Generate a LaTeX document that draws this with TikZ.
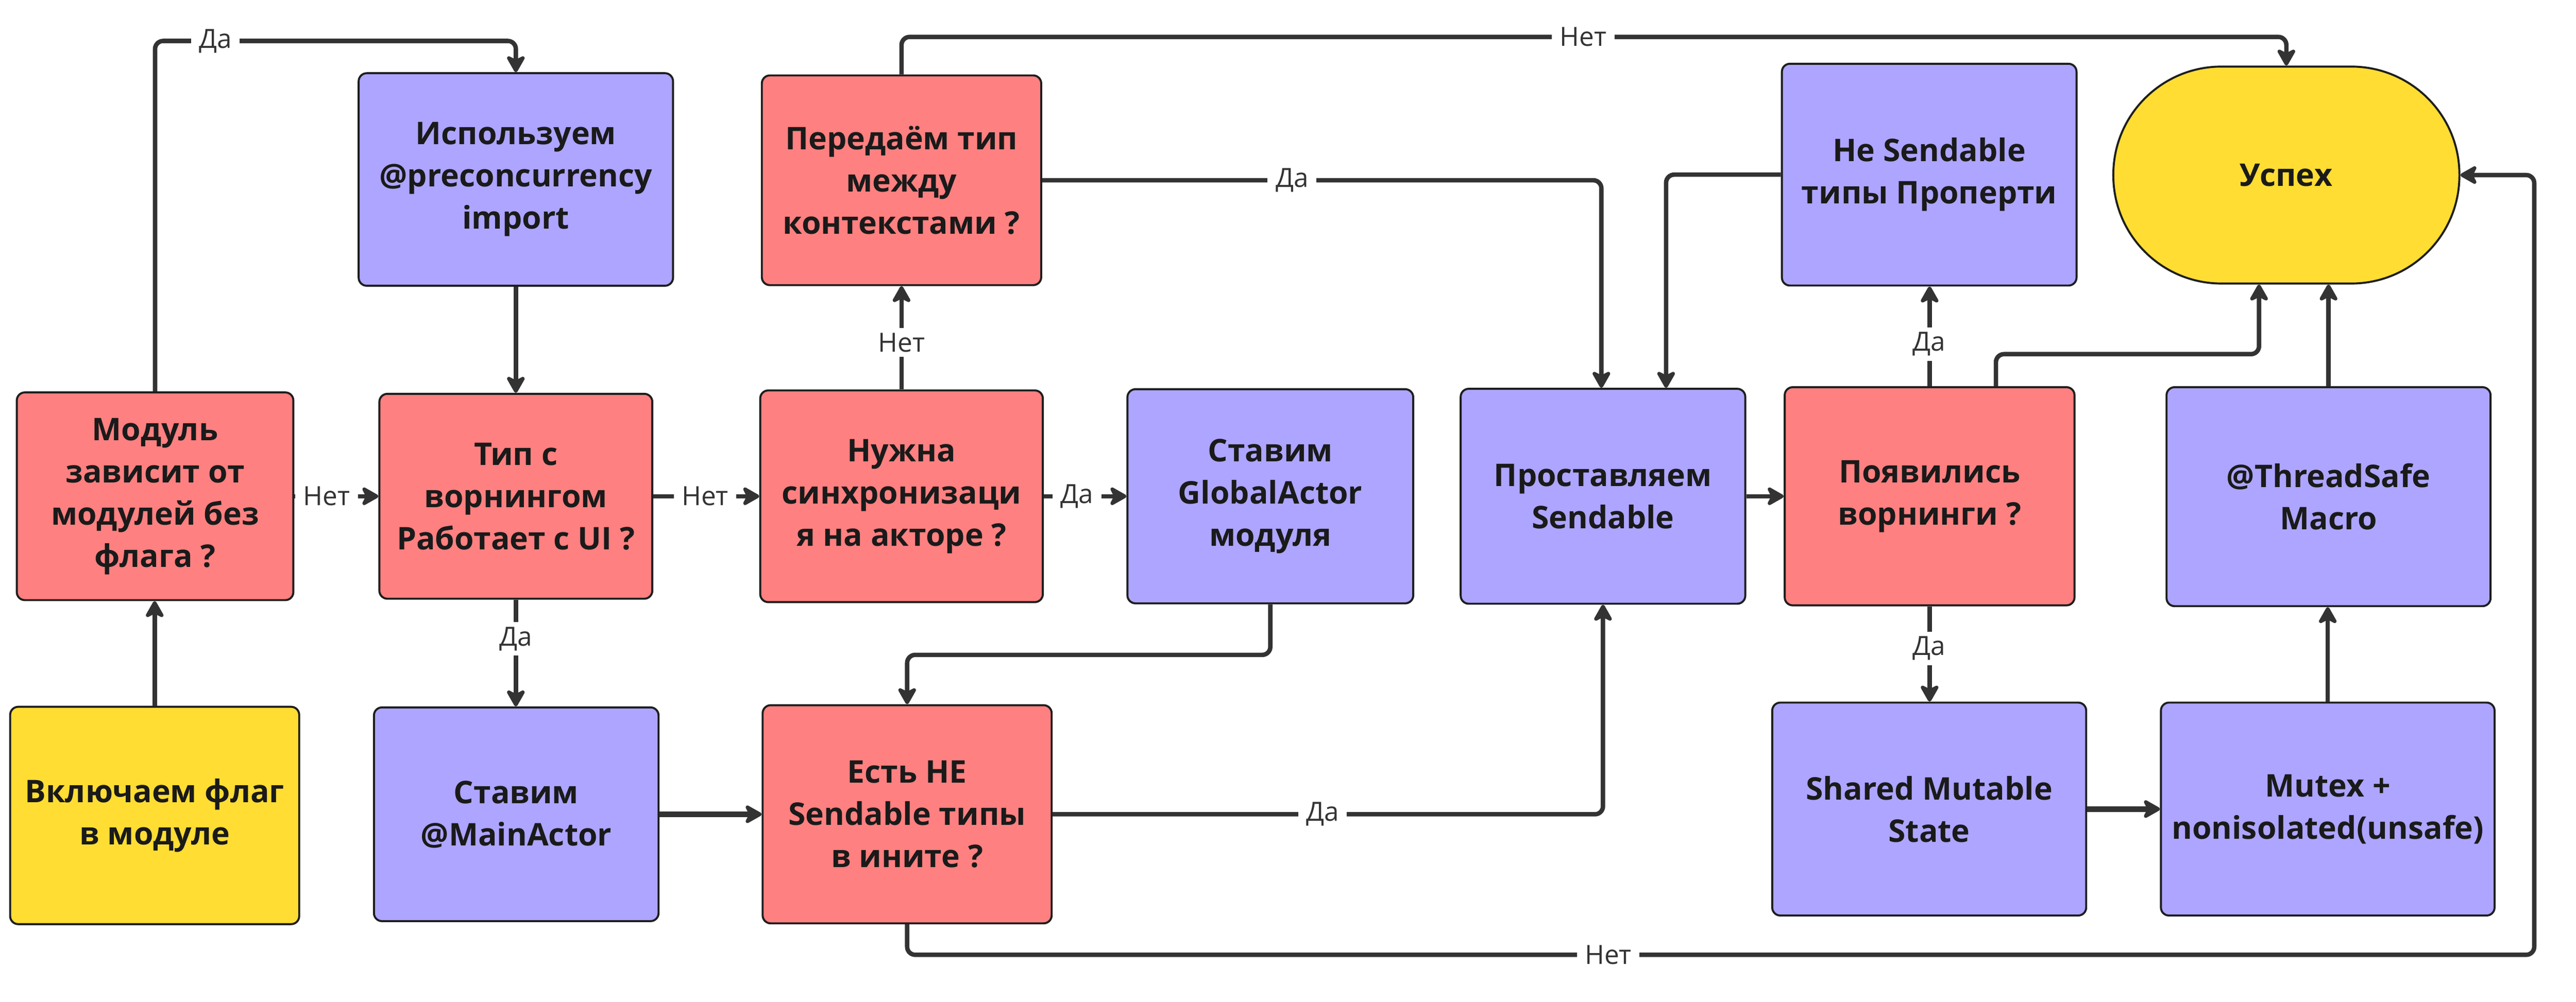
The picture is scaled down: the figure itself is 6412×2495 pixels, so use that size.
\documentclass[tikz,border=0pt]{standalone}
\usepackage{fontspec}
\setmainfont{Open Sans}
\usetikzlibrary{arrows.meta,calc}
\definecolor{redbox}{HTML}{FF8080}
\definecolor{purplebox}{HTML}{ADA5FF}
\definecolor{yellowbox}{HTML}{FFDD33}
\definecolor{edgecol}{HTML}{333333}
\definecolor{bordercol}{HTML}{1E1E1E}
\definecolor{textcol}{HTML}{1A1A1A}
\begin{document}
\begin{tikzpicture}[x=0.01cm,y=-0.01cm,
  box/.style={draw=bordercol, line width=0.05cm, rounded corners=0.2cm, align=center, text=textcol,
    font=\fontsize{22.1pt}{29.9pt}\selectfont\bfseries, inner sep=0pt},
  redb/.style={box, fill=redbox},
  purb/.style={box, fill=purplebox},
  yelb/.style={box, fill=yellowbox},
  conn/.style={draw=edgecol, line width=0.11cm, rounded corners=0.2cm,
    -{Stealth[length=0.5cm,width=0.56cm,inset=0.14cm,round]}},
  lbl/.style={fill=white, text=edgecol, font=\fontsize{18.7pt}{22pt}\selectfont,
    inner xsep=0.2cm, inner ysep=0.12cm},
]
\fill[white] (0,0) rectangle (6412,2495);
\useasboundingbox (0,0) rectangle (6412,2495);

% nodes
\node[redb, minimum width=6.88cm, minimum height=5.17cm] (mod) at (386,1236) {Модуль\\зависит от\\модулей без\\флага ?};
\node[yelb, minimum width=7.19cm, minimum height=5.41cm] (vkl) at (385,2031) {Включаем флаг\\в модуле};
\node[purb, minimum width=7.82cm, minimum height=5.29cm] (isp) at (1284,447) {Используем\\@preconcurrency\\import};
\node[redb, minimum width=6.79cm, minimum height=5.10cm] (tip) at (1284,1236) {Тип с\\ворнингом\\Работает с UI ?};
\node[purb, minimum width=7.08cm, minimum height=5.32cm] (main) at (1285,2028) {Ставим\\@MainActor};
\node[redb, minimum width=6.95cm, minimum height=5.22cm] (per) at (2244,449) {Передаём тип\\между\\контекстами ?};
\node[redb, minimum width=7.03cm, minimum height=5.27cm] (nuzh) at (2244,1236) {Нужна\\синхронизаци\\я на акторе ?};
\node[redb, minimum width=7.19cm, minimum height=5.43cm] (est) at (2258,2028) {Есть НЕ\\Sendable типы\\в ините ?};
\node[purb, minimum width=7.11cm, minimum height=5.33cm] (glob) at (3162,1236) {Ставим\\GlobalActor\\модуля};
\node[purb, minimum width=7.08cm, minimum height=5.35cm] (prost) at (3990,1236) {Проставляем\\Sendable};
\node[purb, minimum width=7.33cm, minimum height=5.52cm] (nes) at (4802,435) {Не Sendable\\типы Проперти};
\node[redb, minimum width=7.21cm, minimum height=5.43cm] (poyav) at (4803,1236) {Появились\\ворнинги ?};
\node[purb, minimum width=7.81cm, minimum height=5.30cm] (shared) at (4802,2015) {Shared Mutable\\State};
\node[yelb, rounded corners=2.69cm, minimum width=8.61cm, minimum height=5.40cm] (usp) at (5691,436) {Успех};
\node[purb, minimum width=8.06cm, minimum height=5.45cm] (ts) at (5796,1237) {@ThreadSafe\\Macro};
\node[purb, minimum width=8.30cm, minimum height=5.30cm] (mutex) at (5794,2015) {Mutex +\\nonisolated(unsafe)};

\coordinate (railbot) at (6308,2378);
\coordinate (railtop) at (6308,436);

% connectors
\draw[conn] (vkl.north) -- (vkl.north |- mod.south);
\draw[conn] (mod.north) -- (mod.north |- 0,102) -- (isp.north |- 0,102) -- (isp.north);
\node[lbl] (l1) at (536,102) {Да};
\draw[conn] (mod.east) -- (tip.west);
\node[lbl] (l2) at (813,1236) {Нет};
\draw[conn] (isp.south) -- (tip.north);
\draw[conn] (tip.south) -- (tip.south |- main.north);
\node[lbl] (l3) at (1284,1591) {Да};
\draw[conn] (tip.east) -- (nuzh.west);
\node[lbl] (l4) at (1755,1236) {Нет};
\draw[conn] (nuzh.north) -- (per.south);
\node[lbl] (l5) at (2244,853) {Нет};
\draw[conn] (nuzh.east) -- (glob.west);
\node[lbl] (l6) at (2681,1236) {Да};
\draw[conn] (per.east) -- ([xshift=-0.04cm]prost.north |- per.east) -- ([xshift=-0.04cm]prost.north);
\node[lbl] (l7) at (3216,449) {Да};
\draw[conn] (per.north) -- (per.north |- 0,92) -- (usp.north |- 0,92) -- (usp.north);
\node[lbl] (l8) at (3941,92) {Нет};
\draw[conn] (glob.south) -- (glob.south |- 0,1631) -- (est.north |- 0,1631) -- (est.north);
\draw[conn, line width=0.14cm] (main.east) -- (est.west);
\draw[conn] (est.east) -- (prost.south |- est.east) -- (prost.south);
\node[lbl] (l9) at (3292,2028) {Да};
\draw[conn] (est.south) -- (est.south |- railbot) -- (railbot) -- (railtop) -- (usp.east);
\node[lbl] (l10) at (4003,2378) {Нет};
\draw[conn] (nes.west) -- ([xshift=1.57cm]prost.north |- nes.west) -- ([xshift=1.57cm]prost.north);
\draw[conn] (prost.east) -- (poyav.west);
\draw[conn] (poyav.north) -- (poyav.north |- nes.south);
\node[lbl] (l11) at (4802,857) {Да};
\draw[conn] ([xshift=1.65cm]poyav.north) -- ([xshift=1.65cm]poyav.north |- 0,882) -- ([xshift=-0.68cm]usp.south |- 0,882) -- ([xshift=-0.68cm]usp.south);
\draw[conn] (poyav.south) -- (poyav.south |- shared.north);
\node[lbl] (l12) at (4802,1615) {Да};
\draw[conn, line width=0.14cm] (shared.east) -- (mutex.west);
\draw[conn] (mutex.north) -- (mutex.north |- ts.south);
\draw[conn] (ts.north) -- (ts.north |- usp.south);
\end{tikzpicture}
\end{document}
